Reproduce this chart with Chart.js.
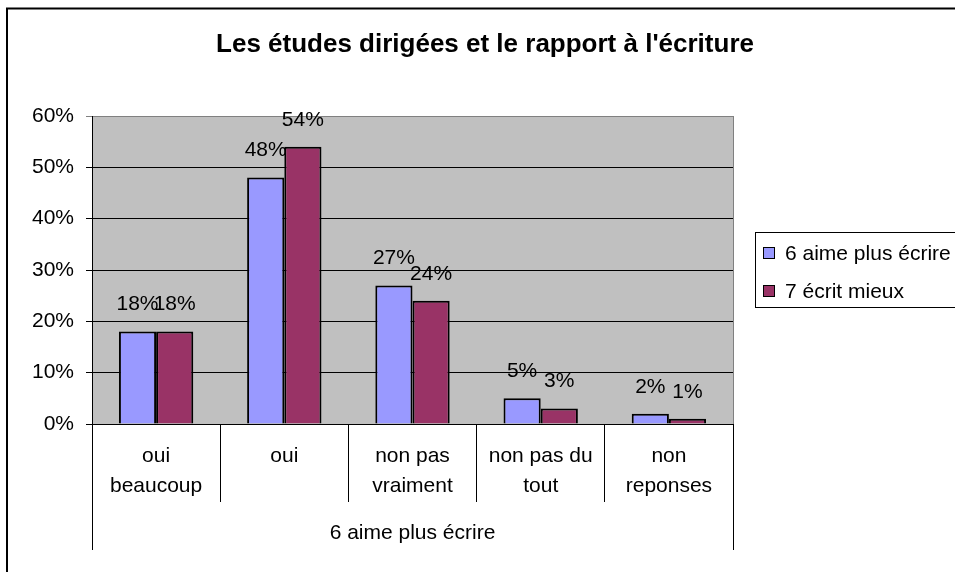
<!DOCTYPE html>
<html>
<head>
<meta charset="utf-8">
<script src="https://cdn.jsdelivr.net/npm/chart.js@4.4.0/dist/chart.umd.min.js"></script>
<style>
body { margin: 0; background: #fff; }
#wrap { width: 955px; height: 572px; }
</style>
</head>
<body>
<div id="wrap"><canvas id="myChart"></canvas></div>
<script>
var chartTitle = "Les études dirigées et le rapport à l'écriture";
var categories = [['oui', 'beaucoup'], 'oui', ['non pas', 'vraiment'], ['non pas du', 'tout'], ['non', 'reponses']];
var groupLabel = '6 aime plus écrire';
var seriesNames = ['6 aime plus écrire', '7 écrit mieux'];
var aimeEcrire = [18, 48, 27, 5, 2];
var ecritMieux = [18, 54, 24, 3, 1];
var yTicks = [0, 10, 20, 30, 40, 50, 60];

var fontFamily = "'Liberation Sans', Arial, sans-serif";
Chart.defaults.font.family = fontFamily;
Chart.defaults.color = '#000';

// gray plot background, frame, title, legend box and value labels
var decorations = {
    id: 'decorations',
    beforeDraw: function(chart) {
        var c = chart.ctx, a = chart.chartArea;
        c.save();
        c.fillStyle = '#c0c0c0';
        c.fillRect(a.left, a.top, a.right - a.left, a.bottom - a.top);
        c.restore();
    },
    afterDatasetsDraw: function(chart) {
        var c = chart.ctx;
        c.save();
        c.font = '21px ' + fontFamily;
        c.fillStyle = '#000';
        c.textAlign = 'center';
        c.textBaseline = 'middle';
        chart.data.datasets.forEach(function(ds, i) {
            chart.getDatasetMeta(i).data.forEach(function(bar, j) {
                c.fillText(ds.data[j] + '%', bar.x, bar.y - 27);
            });
        });
        c.restore();
    },
    afterDraw: function(chart) {
        var c = chart.ctx, a = chart.chartArea;
        c.save();
        // right edge of plot area
        c.strokeStyle = '#808080';
        c.lineWidth = 1;
        c.beginPath();
        c.moveTo(a.right + 0.5, a.top);
        c.lineTo(a.right + 0.5, a.bottom);
        c.stroke();

        // outer chart frame
        c.strokeStyle = '#000';
        c.lineWidth = 2;
        c.strokeRect(7, 8.5, 1000, 1000);

        // title
        c.font = 'bold 26px ' + fontFamily;
        c.textAlign = 'center';
        c.textBaseline = 'middle';
        c.fillStyle = '#000';
        c.fillText(chartTitle, 485, 45);

        // legend
        c.lineWidth = 1;
        c.strokeRect(755.5, 232.5, 300, 75);
        c.font = '21px ' + fontFamily;
        c.textAlign = 'left';
        chart.data.datasets.forEach(function(ds, i) {
            var y = 253 + i * 38;
            c.fillStyle = ds.backgroundColor;
            c.fillRect(763.5, y - 5.5, 11, 11);
            c.strokeRect(763.5, y - 5.5, 11, 11);
            c.fillStyle = '#000';
            c.fillText(ds.label, 785, y + 1);
        });
        c.restore();
    }
};

var ctx = document.getElementById('myChart').getContext('2d');
var chart = new Chart(ctx, {
    type: 'bar',
    data: {
        labels: categories,
        datasets: [{
            label: seriesNames[0],
            data: aimeEcrire,
            backgroundColor: '#9999ff',
            borderColor: '#000',
            borderWidth: 2
        }, {
            label: seriesNames[1],
            data: ecritMieux,
            backgroundColor: '#993366',
            borderColor: '#000',
            borderWidth: 2
        }]
    },
    options: {
        responsive: true,
        maintainAspectRatio: false,
        animation: false,
        categoryPercentage: 0.58,
        barPercentage: 1,
        layout: { padding: { top: 116, right: 222, bottom: 22, left: 0 } },
        plugins: {
            legend: { display: false },
            title: { display: false },
            tooltip: { enabled: false }
        },
        scales: {
            x: {
                weight: 0,
                offset: true,
                grid: { offset: true, drawOnChartArea: false, tickLength: 78, color: '#000' },
                border: { display: true, color: '#000' },
                ticks: { padding: -61, font: { size: 21, lineHeight: 1.43 }, maxRotation: 0, autoSkip: false },
                afterFit: function(scale) { scale.height = 78; }
            },
            x2: {
                type: 'category',
                position: 'bottom',
                weight: 1,
                labels: [groupLabel],
                offset: true,
                grid: { offset: true, drawOnChartArea: false, tickLength: 48, color: '#000' },
                border: { display: false },
                ticks: { padding: -32, font: { size: 21, lineHeight: 1.43 }, maxRotation: 0 },
                afterFit: function(scale) { scale.height = 48; }
            },
            y: {
                min: 0,
                max: 60,
                afterBuildTicks: function(scale) {
                    scale.ticks = yTicks.map(function(v) { return { value: v }; });
                },
                grid: {
                    tickLength: 6,
                    color: function(c) { return c.tick && c.tick.value === 60 ? '#808080' : '#000'; }
                },
                border: { display: true, color: '#000' },
                ticks: {
                    padding: 12,
                    font: { size: 21 },
                    callback: function(v) { return v + '%'; }
                },
                afterFit: function(scale) { scale.width = 92; }
            }
        }
    },
    plugins: [decorations]
});
</script>
</body>
</html>
